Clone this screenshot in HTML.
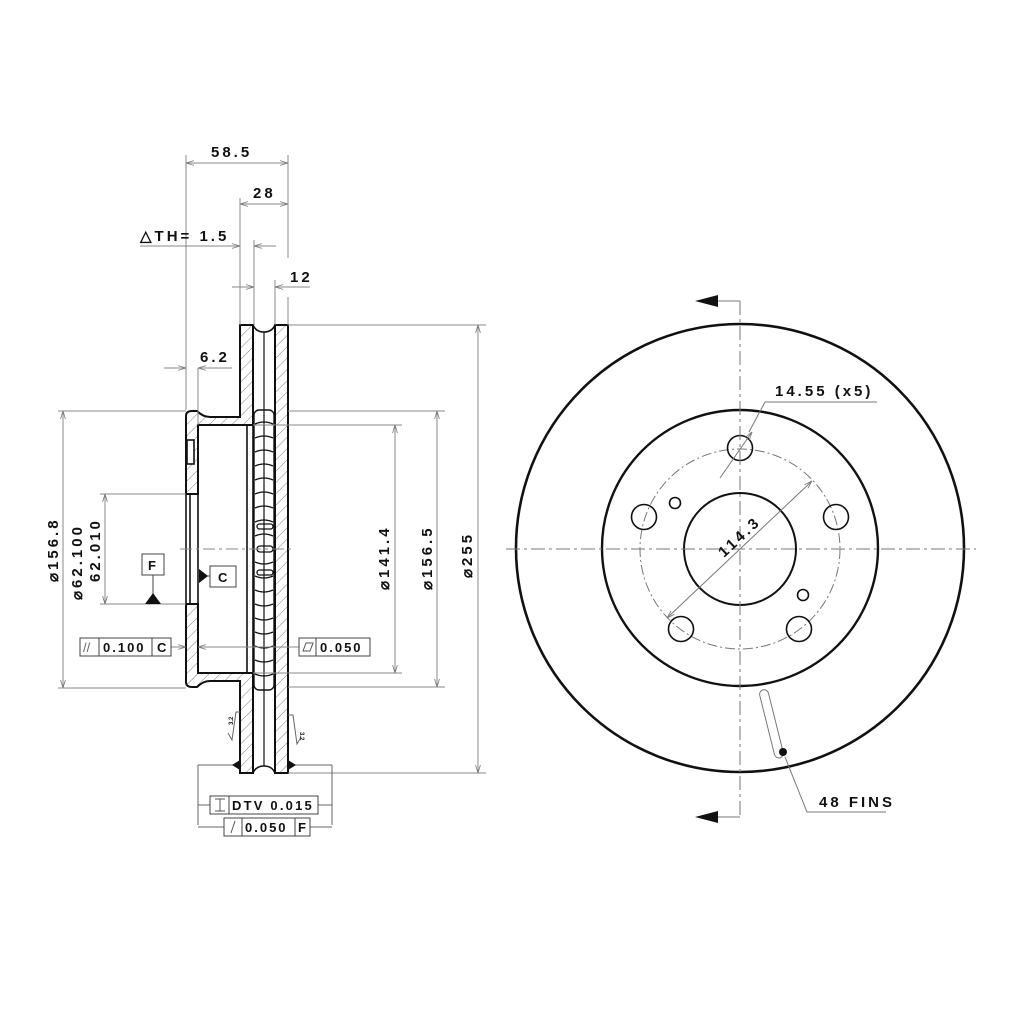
<!DOCTYPE html>
<html><head><meta charset="utf-8"><style>
html,body{margin:0;padding:0;background:#fff}
svg{display:block}
text{font-family:"Liberation Sans",sans-serif;font-weight:bold;fill:#111;letter-spacing:3px}
</style></head><body>
<svg width="1024" height="1024" viewBox="0 0 1024 1024" xmlns="http://www.w3.org/2000/svg">
<defs>
<pattern id="h" patternUnits="userSpaceOnUse" width="8" height="8" patternTransform="rotate(45)">
<line x1="0" y1="0" x2="0" y2="8" stroke="#8a7f7a" stroke-width="1"/>
</pattern>
<marker id="a" viewBox="0 0 10 10" refX="10" refY="5" markerWidth="8" markerHeight="8" orient="auto-start-reverse"><path d="M0,2 L10,5 L0,8" fill="none" stroke="#777" stroke-width="1"/></marker>
</defs>
<rect width="1024" height="1024" fill="#fff"/>

<g stroke="#111" stroke-width="2" fill="url(#h)">
<path d="M240,325 L253,325 L253,425 L198,425 L198,494 L186,494 L186,416 Q186,411 192,411 L197,411 Q203,417 210,417 L240,417 Z"/>
<path d="M240,773 L253,773 L253,673 L198,673 L198,604 L186,604 L186,682 Q186,687 192,687 L197,687 Q203,681 210,681 L240,681 Z"/>
<path d="M275,325 L288,325 L288,773 L275,773 Z"/>
</g>
<g stroke="#111" stroke-width="1.6" fill="none">
<line x1="190" y1="494" x2="190" y2="604"/>
<line x1="186" y1="494" x2="186" y2="604"/>
<line x1="198" y1="494" x2="198" y2="604"/>
<line x1="247" y1="425" x2="247" y2="673"/>
<rect x="187" y="440" width="7" height="24" fill="#fff"/>
<line x1="253" y1="325" x2="253" y2="773"/>
<line x1="275" y1="325" x2="275" y2="773"/>
<path d="M253,325 Q256,332 264,332 Q272,332 275,325" />
<path d="M253,773 Q256,766 264,766 Q272,766 275,773" />
<line x1="264" y1="332" x2="264" y2="766" stroke-width="1.2"/>
<line x1="288" y1="411" x2="288" y2="687"/>
<rect x="254" y="410" width="20" height="280" rx="5" stroke-width="1.4"/>
</g>
<g stroke="#111" stroke-width="1.3" fill="none">
<path d="M255,424 q9,-4 18,0 M255,438 q9,-4 18,0 M255,452 q9,-4 18,0 M255,466 q9,-4 18,0 M255,480 q9,-4 18,0 M255,494 q9,-4 18,0 M255,508 q9,-4 18,0 M255,522 q9,-4 18,0 M255,536 q9,-4 18,0 M255,562 q9,4 18,0 M255,576 q9,4 18,0 M255,590 q9,4 18,0 M255,604 q9,4 18,0 M255,618 q9,4 18,0 M255,632 q9,4 18,0 M255,646 q9,4 18,0 M255,660 q9,4 18,0 M255,674 q9,4 18,0"/>
<rect x="257" y="524" width="16" height="5" rx="2.5"/>
<rect x="257" y="546" width="16" height="6" rx="3"/>
<rect x="257" y="570" width="16" height="5" rx="2.5"/>
</g>

<g stroke="#888" stroke-width="1" fill="none">
<line x1="186" y1="155" x2="186" y2="410"/>
<line x1="288" y1="155" x2="288" y2="258"/>
<line x1="288" y1="297" x2="288" y2="325"/>
<line x1="240" y1="198" x2="240" y2="325"/>
<line x1="254" y1="240" x2="254" y2="325"/>
<line x1="275" y1="280" x2="275" y2="325"/>
<line x1="186" y1="163" x2="288" y2="163" marker-start="url(#a)" marker-end="url(#a)"/>
<line x1="240" y1="204" x2="288" y2="204" marker-start="url(#a)" marker-end="url(#a)"/>
<line x1="140" y1="246" x2="240" y2="246" marker-end="url(#a)"/>
<line x1="254" y1="246" x2="276" y2="246" marker-start="url(#a)"/>
<line x1="232" y1="287" x2="254" y2="287" marker-end="url(#a)"/>
<line x1="275" y1="287" x2="310" y2="287" marker-start="url(#a)"/>
<line x1="164" y1="368" x2="186" y2="368" marker-end="url(#a)"/>
<line x1="198" y1="368" x2="232" y2="368" marker-start="url(#a)"/>
<line x1="198" y1="368" x2="198" y2="425"/>
<line x1="288" y1="325" x2="486" y2="325"/>
<line x1="288" y1="773" x2="486" y2="773"/>
<line x1="58" y1="411" x2="186" y2="411"/>
<line x1="58" y1="688" x2="186" y2="688"/>
<line x1="288" y1="411" x2="445" y2="411"/>
<line x1="288" y1="687" x2="445" y2="687"/>
<line x1="253" y1="425" x2="402" y2="425"/>
<line x1="253" y1="673" x2="402" y2="673"/>
<line x1="100" y1="494" x2="186" y2="494"/>
<line x1="100" y1="604" x2="186" y2="604"/>
<line x1="63" y1="411" x2="63" y2="688" marker-start="url(#a)" marker-end="url(#a)"/>
<line x1="105" y1="494" x2="105" y2="604" marker-start="url(#a)" marker-end="url(#a)"/>
<line x1="395" y1="425" x2="395" y2="673" marker-start="url(#a)" marker-end="url(#a)"/>
<line x1="437" y1="411" x2="437" y2="687" marker-start="url(#a)" marker-end="url(#a)"/>
<line x1="478" y1="325" x2="478" y2="773" marker-start="url(#a)" marker-end="url(#a)"/>
<line x1="180" y1="549" x2="295" y2="549" stroke-dasharray="12,4,3,4"/>
<line x1="171" y1="647" x2="186" y2="647" marker-end="url(#a)"/>
<line x1="198" y1="647" x2="299" y2="647" marker-start="url(#a)"/>
</g>

<g font-size="15">
<text x="211" y="157">58.5</text>
<text x="253" y="198">28</text>
<text x="140" y="241">△TH= 1.5</text>
<text x="290" y="282">12</text>
<text x="200" y="362">6.2</text>
</g>
<g font-size="15">
<text transform="translate(58,582) rotate(-90)">⌀156.8</text>
<text transform="translate(82,600) rotate(-90)">⌀62.100</text>
<text transform="translate(100,582) rotate(-90)">62.010</text>
<text transform="translate(389,590) rotate(-90)">⌀141.4</text>
<text transform="translate(432,590) rotate(-90)">⌀156.5</text>
<text transform="translate(472,578) rotate(-90)">⌀255</text>
</g>

<g stroke="#444" stroke-width="1" fill="#fff">
<rect x="142" y="554" width="22" height="21"/>
<line x1="153" y1="575" x2="153" y2="595"/>
<rect x="210" y="566" width="26" height="21"/>
<line x1="200" y1="576" x2="210" y2="576"/>
<rect x="80" y="638" width="91" height="18"/>
<line x1="99" y1="638" x2="99" y2="656"/>
<line x1="152" y1="638" x2="152" y2="656"/>
<rect x="299" y="638" width="71" height="18"/>
<line x1="316" y1="638" x2="316" y2="656"/>
</g>
<path d="M145,604 L153,593 L161,604 Z" fill="#111"/>
<path d="M199,569 L208,576 L199,583 Z" fill="#111"/>
<g font-size="13">
<text x="148" y="570" style="letter-spacing:0">F</text>
<text x="218" y="582" style="letter-spacing:0">C</text>
<text x="103" y="652" style="letter-spacing:2px">0.100</text>
<text x="157" y="652" style="letter-spacing:0">C</text>
<text x="320" y="652" style="letter-spacing:2px">0.050</text>
</g>
<text x="83" y="652" font-size="13" style="font-weight:normal;fill:#666;letter-spacing:0">//</text>
<path d="M303,651 L306,643 L313,643 L310,651 Z" fill="none" stroke="#555"/>

<g stroke="#666" stroke-width="1" fill="none">
<path d="M240,712 L236,712 L232,740 L228,733"/>
<path d="M288,715 L293,715 L297,744 L301,737"/>
<line x1="198" y1="765" x2="240" y2="765"/>
<line x1="288" y1="765" x2="332" y2="765"/>
<line x1="198" y1="765" x2="198" y2="825"/>
<line x1="332" y1="765" x2="332" y2="825"/>
<line x1="198" y1="805" x2="210" y2="805"/>
<line x1="318" y1="805" x2="332" y2="805"/>
<line x1="198" y1="827" x2="224" y2="827"/>
<line x1="310" y1="827" x2="332" y2="827"/>
</g>
<path d="M232,765 L240,760 L240,770 Z M296,765 L288,760 L288,770 Z" fill="#111"/>
<text font-size="6" style="letter-spacing:0" transform="translate(233,725) rotate(-90)">3.2</text>
<text font-size="6" style="letter-spacing:0" transform="translate(300,732) rotate(90)">3.2</text>
<g stroke="#444" stroke-width="1" fill="#fff">
<rect x="210" y="796" width="108" height="18"/>
<line x1="229" y1="796" x2="229" y2="814"/>
<rect x="224" y="818" width="86" height="18"/>
<line x1="242" y1="818" x2="242" y2="836"/>
<line x1="295" y1="818" x2="295" y2="836"/>
</g>
<path d="M215,799 h10 M220,799 v12 M215,811 h10" stroke="#555" fill="none"/>
<line x1="231" y1="833" x2="235" y2="821" stroke="#555"/>
<g font-size="13">
<text x="232" y="810" style="letter-spacing:2.2px">DTV 0.015</text>
<text x="245" y="832" style="letter-spacing:2px">0.050</text>
<text x="298" y="832" style="letter-spacing:0">F</text>
</g>

<g fill="none" stroke="#111">
<circle cx="740" cy="548" r="224" stroke-width="2.6"/>
<circle cx="740" cy="548" r="138" stroke-width="2.4"/>
<circle cx="740" cy="549" r="56" stroke-width="2"/>
<circle cx="740" cy="549" r="100" stroke="#777" stroke-width="1" stroke-dasharray="10,3,2,3"/>
<g stroke-width="1.6">
<circle cx="740" cy="448" r="12.5"/>
<circle cx="836" cy="517" r="12.5"/>
<circle cx="799" cy="629" r="12.5"/>
<circle cx="681" cy="629" r="12.5"/>
<circle cx="644" cy="517" r="12.5"/>
<circle cx="675" cy="503" r="5.5"/>
<circle cx="803" cy="595" r="5.5"/>
</g>
</g>
<g stroke="#777" stroke-width="1" fill="none">
<line x1="506" y1="549" x2="976" y2="549" stroke-dasharray="14,4,3,4"/>
<line x1="740" y1="301" x2="740" y2="817" stroke-dasharray="14,4,3,4"/>
<line x1="740" y1="301" x2="715" y2="301"/>
<line x1="740" y1="817" x2="715" y2="817"/>
<line x1="667" y1="618" x2="812" y2="481" marker-start="url(#a)" marker-end="url(#a)"/>
<line x1="720" y1="478" x2="752" y2="432" marker-end="url(#a)"/>
<line x1="765" y1="402" x2="877" y2="402"/>
<line x1="765" y1="402" x2="749" y2="432"/>
<rect x="767" y="689" width="9" height="70" rx="4.5" transform="rotate(-14 771 724)"/>
<path d="M785,757 L807,812 L886,812"/>
</g>
<path d="M695,301 L718,295 L718,307 Z M695,817 L718,811 L718,823 Z" fill="#111"/>
<circle cx="783" cy="752" r="4" fill="#111"/>
<g font-size="15">
<text x="775" y="396">14.55 (x5)</text>
<text transform="translate(724,558) rotate(-43)">114.3</text>
<text x="819" y="807">48 FINS</text>
</g>
</svg>
</body></html>
